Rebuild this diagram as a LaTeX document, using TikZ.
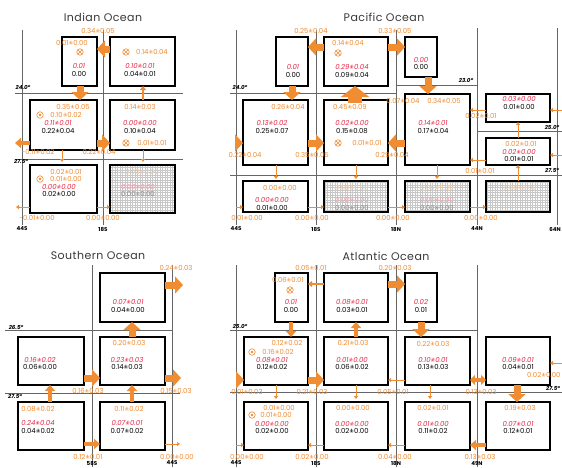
\documentclass[tikz,border=0pt]{standalone}
\usepackage{fontspec}
\setmainfont{Poppins}
\usetikzlibrary{arrows.meta}
\definecolor{myor}{RGB}{240,140,50}
\definecolor{myred}{RGB}{228,40,70}
\newcommand\tf{\fontsize{6.9}{7.5}\selectfont}
\newcommand\bx[6][boxst]{\node[#1, minimum width={(#5-#3)*1pt}, minimum height={(#6-#4)*1pt}] (#2) at ({(#3+#5)/2},{(#4+#6)/2}) {};}
\newcommand\hgrid[1]{\draw[black!22, line width=0.3pt, step=2.5pt] ([shift={(1,1)}]#1.north west) grid ([shift={(-1,-1)}]#1.south east);}
\tikzset{
 boxst/.style={draw=black, fill=white, line width=1.5pt, rectangle, inner sep=0pt, outer sep=0pt},
 grd/.style={draw=black!60, line width=0.7pt},
 ot/.style={text=myor, font=\tf, inner sep=0pt},
 ft/.style={text=myor!45, font=\tf, inner sep=0pt},
 rt/.style={text=myred, font=\tf\itshape, inner sep=0pt},
 frt/.style={text=myred!45, font=\tf\itshape, inner sep=0pt},
 bt/.style={text=black, font=\tf, inner sep=0pt},
 fbt/.style={text=black!45, font=\tf, inner sep=0pt},
 xcirc/.style={circle, draw=myor, line width=0.6pt, minimum size=6.5pt, inner sep=0pt,
   path picture={\draw[myor, line width=0.6pt] (path picture bounding box.north west) -- (path picture bounding box.south east) (path picture bounding box.north east) -- (path picture bounding box.south west);}},
 dcirc/.style={circle, draw=myor, line width=0.6pt, minimum size=6.5pt, inner sep=0pt,
   path picture={\fill[myor] (path picture bounding box.center) circle (1.3pt);}},
 title/.style={text=black!78, font=\fontsize{11}{12}\selectfont\addfontfeatures{LetterSpace=4}, inner sep=0pt},
 dg/.style={text=black, font=\fontsize{5.5}{6}\selectfont\bfseries\itshape, inner sep=0pt},
 ax/.style={text=black, font=\fontsize{5.5}{6}\selectfont\bfseries, inner sep=0pt},
 bigarr/.style={draw=myor, line width=7pt, -{Triangle[width=17pt,length=8pt]}},
 hugearr/.style={draw=myor, line width=14pt, -{Triangle[width=28pt,length=11pt]}},
 medarr/.style={draw=myor, line width=4pt, -{Triangle[width=10pt,length=6pt]}},
 dmedarr/.style={draw=myor, line width=4pt, {Triangle[width=10pt,length=5pt]}-{Triangle[width=10pt,length=5pt]}},
 smarr/.style={draw=myor, line width=2pt, -{Triangle[width=6pt,length=4pt]}},
 thinarr/.style={draw=myor, line width=0.9pt, -{Triangle[width=4pt,length=3pt]}},
}
\begin{document}
\begin{tikzpicture}[x=1pt,y=-1pt]
\useasboundingbox[fill=white] (0,0) rectangle (562,467);

% ---------- titles
\node[title] (tI) at (103,17) {Indian Ocean};
\node[title] (tP) at (384,17) {Pacific Ocean};
\node[title] (tS) at (98,255) {Southern Ocean};
\node[title] (tA) at (386,256) {Atlantic Ocean};

% ================= INDIAN =================
\draw[grd] (22,30) -- (22,225);
\draw[grd] (103,30) -- (103,225);
\draw[grd] (15,93) -- (183,93);
\draw[grd] (15,159) -- (183,159);
\bx{iA}{62}{37}{97}{86}
\bx{iB}{110}{37}{175}{86}
\bx{iC}{30}{100}{97}{150}
\bx{iD}{110}{100}{175}{150}
\bx{iE}{30}{165}{97}{213}
\bx{iF}{110}{165}{175}{213}
\hgrid{iF}
\draw[bigarr] (iB.west |- 0,49) -- (iA.east |- 0,49);
\draw[bigarr] (iA.south -| 80,0) -- (iC.north -| 80,0);
\draw[smarr] (iD.north -| 143,0) -- (iB.south -| 143,0);
\draw[bigarr] (iC.east |- 0,143) -- (iD.west |- 0,143);
\coordinate (iL1) at (15,143);
\draw[medarr] (iC.west |- 0,143) -- (iL1);
\coordinate (iL2) at (62,162);
\draw[thinarr] (iC.south -| 62,0) -- (iL2);
\coordinate (iL3) at (143,162);
\draw[thinarr] (iD.south -| 143,0) -- (iL3);
\coordinate (iL4) at (16,207);
\draw[thinarr] (iE.west |- 0,207) -- (iL4);
\draw[thinarr] (iE.east |- 0,207) -- (iF.west |- 0,207);
\node[ot] (iT1) at (98,31) {0.34±0.05};
\node[ot] (iA1) at (72,43) {0.01±0.00};
\node[xcirc] (iA2) at (80,52) {};
\node[rt] (iA3) at (79,66) {0.01};
\node[bt] (iA4) at (79,74) {0.00};
\node[xcirc] (iB1) at (126,52) {};
\node[ot] (iB2) at (152,52) {0.14±0.04};
\node[rt] (iB3) at (140,66) {0.10±0.01};
\node[bt] (iB4) at (140,74) {0.04±0.01};
\node[ot] (iC1) at (73,107) {0.35±0.05};
\node[dcirc] (iC2) at (40,115) {};
\node[ot] (iC3) at (66,115) {0.10±0.02};
\node[rt] (iC4) at (58,123) {0.11±0.01};
\node[bt] (iC5) at (58,131) {0.22±0.04};
\node[ot] (iD1) at (140,107) {0.14±0.03};
\node[rt] (iD2) at (140,123) {0.00±0.00};
\node[bt] (iD3) at (140,131) {0.10±0.04};
\node[xcirc] (iD4) at (126,143) {};
\node[ot] (iD5) at (152,143) {0.01±0.01};
\node[ot] (iE1) at (66,172) {0.02±0.01};
\node[dcirc] (iE2) at (40,179) {};
\node[ot] (iE3) at (66,179) {0.01±0.00};
\node[rt] (iE4) at (59,187) {0.00±0.00};
\node[bt] (iE5) at (59,194) {0.02±0.00};
\node[ft] (iF1) at (142,172) {0.00±0.00};
\node[frt] (iF2) at (138,187) {0.00±0.00};
\node[fbt] (iF3) at (138,194) {0.00±0.00};
\node[ot] (iT2) at (38,152) {-0.11±0.02};
\node[ot] (iT3) at (99,152) {0.22±0.04};
\node[ot] (iT4) at (37,218) {-0.01±0.00};
\node[ot] (iT5) at (103,218) {0.00±0.00};
\node[dg] (iG1) at (23,88) {24.0°};
\node[dg] (iG2) at (21,162) {27.5°};
\node[ax] (iX1) at (22,229) {44S};
\node[ax] (iX2) at (103,229) {18S};

% ================= PACIFIC =================
\draw[grd] (236,30) -- (236,225);
\draw[grd] (316,30) -- (316,225);
\draw[grd] (396,30) -- (396,225);
\draw[grd] (477,28) -- (477,225);
\draw[grd] (557,28) -- (557,225);
\draw[grd] (230,93) -- (396,93);
\draw[grd] (396,85) -- (477,85);
\draw[grd] (477,131) -- (562,131);
\draw[grd] (230,175) -- (562,175);
\bx{pA}{276}{37}{308}{86}
\bx{pB}{324}{37}{388}{86}
\bx{pC}{405}{37}{437}{77}
\bx{pD}{243}{100}{308}{165}
\bx{pE}{324}{100}{388}{165}
\bx{pF}{405}{94}{470}{165}
\bx{pG}{486}{94}{550}{122}
\bx{pG2}{486}{138}{550}{165}
\bx{pH}{243}{181}{308}{212}
\bx{pI}{324}{181}{388}{212}
\bx{pJ}{405}{181}{470}{212}
\bx{pK}{486}{181}{550}{212}
\hgrid{pI}
\hgrid{pJ}
\hgrid{pK}
\draw[bigarr] (pB.west |- 0,47) -- (pA.east |- 0,47);
\draw[bigarr] (pB.east |- 0,47) -- (pC.west |- 0,47);
\draw[bigarr] (pA.south -| 292,0) -- (pD.north -| 292,0);
\draw[hugearr] ([yshift=-3pt]pE.north -| 355,0) -- (pB.south -| 355,0);
\draw[bigarr] (pC.south -| 428,0) -- (pF.north -| 428,0);
\coordinate (pL1) at (236,143);
\draw[bigarr] (pL1) -- (pD.west |- 0,143);
\draw[bigarr] (pD.east |- 0,143) -- (pE.west |- 0,143);
\draw[bigarr] (pF.west |- 0,143) -- (pE.east |- 0,143);
\draw[thinarr] (pG.west |- 0,110) -- (pF.east |- 0,110);
\draw[thinarr] (pG2.west |- 0,160) -- (pF.east |- 0,160);
\draw[thinarr] (pG2.north -| 518,0) -- (pG.south -| 518,0);
\draw[thinarr] (pK.north -| 518,0) -- (pG2.south -| 518,0);
\coordinate (pL2) at (276,179);
\draw[thinarr] (pD.south -| 276,0) -- (pL2);
\coordinate (pL3) at (356,179);
\draw[thinarr] (pE.south -| 356,0) -- (pL3);
\coordinate (pL4) at (437,179);
\draw[thinarr] (pF.south -| 437,0) -- (pL4);
\coordinate (pL5) at (236,207);
\draw[thinarr] (pL5) -- (pH.west |- 0,207);
\draw[thinarr] (pH.east |- 0,207) -- (pI.west |- 0,207);
\draw[thinarr] (pI.east |- 0,207) -- (pJ.west |- 0,207);
\draw[thinarr] (pJ.east |- 0,207) -- (pK.west |- 0,207);
\coordinate (pR1) at (562,110);
\draw[thinarr] (pR1) -- (pG.east |- 0,110);
\coordinate (pR2) at (562,155);
\draw[thinarr] (pR2) -- (pG2.east |- 0,155);
\node[ot] (pT1) at (311,31) {0.25±0.04};
\node[ot] (pT2) at (395,31) {0.33±0.05};
\node[rt] (pA1) at (293,67) {0.01};
\node[bt] (pA2) at (293,75) {0.00};
\node[ot] (pB1) at (348,43) {0.14±0.04};
\node[xcirc] (pB2) at (338,53) {};
\node[rt] (pB3) at (352,67) {0.29±0.04};
\node[bt] (pB4) at (352,75) {0.09±0.04};
\node[rt] (pC1) at (421,60) {0.00};
\node[bt] (pC2) at (421,67) {0.00};
\node[ot] (pD1) at (288,107) {0.26±0.04};
\node[rt] (pD2) at (272,123) {0.13±0.02};
\node[bt] (pD3) at (272,131) {0.25±0.07};
\node[ot] (pE1) at (350,107) {0.45±0.09};
\node[rt] (pE2) at (352,123) {0.02±0.00};
\node[bt] (pE3) at (352,131) {0.15±0.08};
\node[xcirc] (pE4) at (338,143) {};
\node[ot] (pE5) at (367,143) {0.01±0.01};
\node[ot] (pF1) at (444,101) {0.34±0.05};
\node[rt] (pF2) at (433,123) {0.14±0.01};
\node[bt] (pF3) at (433,131) {0.17±0.04};
\node[ot] (pT3) at (403,101) {0.07±0.04};
\node[rt] (pG1) at (519,99) {0.03±0.00};
\node[bt] (pG3) at (519,107) {0.01±0.00};
\node[ot] (pT4) at (481,116) {0.02±0.01};
\node[ot] (pH1) at (521,144) {0.02±0.01};
\node[rt] (pH2) at (519,152) {0.02±0.00};
\node[bt] (pH3) at (519,159) {0.01±0.01};
\node[ot] (pT5) at (480,171) {0.01±0.01};
\node[ot] (pT6) at (245,155) {0.22±0.04};
\node[ot] (pT7) at (312,155) {0.35±0.05};
\node[ot] (pT8) at (392,155) {0.29±0.04};
\node[ot] (pJ1) at (280,188) {0.00±0.00};
\node[rt] (pJ2) at (272,200) {0.00±0.00};
\node[bt] (pJ3) at (272,208) {0.01±0.00};
\node[ft] (pI1) at (352,188) {0.00±0.00};
\node[frt] (pI2) at (352,200) {0.00±0.00};
\node[fbt] (pI3) at (352,208) {0.00±0.00};
\node[ft] (pK1) at (437,188) {0.00±0.00};
\node[frt] (pK2) at (437,200) {0.00±0.00};
\node[fbt] (pK3) at (437,208) {0.00±0.00};
\node[ft] (pM1) at (520,188) {0.00±0.00};
\node[ot] (pT9) at (247,218) {0.01±0.00};
\node[ot] (pT10) at (312,218) {0.00±0.00};
\node[ot] (pT11) at (393,218) {0.00±0.00};
\node[ot] (pT12) at (481,218) {0.00±0.00};
\node[dg] (pG4) at (240,88) {24.0°};
\node[dg] (pG5) at (466,80) {23.0°};
\node[dg] (pG6) at (552,128) {25.0°};
\node[dg] (pG7) at (552,171) {27.5°};
\node[ax] (pX1) at (236,229) {44S};
\node[ax] (pX2) at (316,229) {18S};
\node[ax] (pX3) at (396,229) {18N};
\node[ax] (pX4) at (477,229) {44N};
\node[ax] (pX5) at (555,229) {64N};

% ================= SOUTHERN =================
\draw[grd] (92,265) -- (92,467);
\draw[grd] (172,265) -- (172,467);
\draw[grd] (5,330) -- (172,330);
\draw[grd] (5,393) -- (180,393);
\bx{sA}{100}{273}{165}{322}
\bx{sB}{18}{337}{84}{385}
\bx{sC}{100}{337}{165}{385}
\bx{sD}{18}{402}{84}{450}
\bx{sE}{100}{402}{165}{450}
\coordinate (sR1) at (183,285);
\draw[bigarr] (sA.east |- 0,285) -- (sR1);
\draw[bigarr] (sC.north -| 132,0) -- (sA.south -| 132,0);
\draw[bigarr] (sB.east |- 0,378) -- (sC.west |- 0,378);
\coordinate (sR2) at (181,378);
\draw[bigarr] (sC.east |- 0,378) -- (sR2);
\draw[medarr] (sD.north -| 50,0) -- (sB.south -| 50,0);
\draw[medarr] (sE.north -| 132,0) -- (sC.south -| 132,0);
\draw[medarr] (sD.east |- 0,444) -- (sE.west |- 0,444);
\coordinate (sR3) at (180,444);
\draw[thinarr] (sE.east |- 0,444) -- (sR3);
\node[ot] (sT1) at (176,268) {0.24±0.03};
\node[rt] (sA1) at (128,302) {0.07±0.01};
\node[bt] (sA2) at (128,310) {0.04±0.00};
\node[rt] (sB1) at (40,360) {0.16±0.02};
\node[bt] (sB2) at (40,367) {0.06±0.00};
\node[ot] (sC1) at (129,343) {0.20±0.03};
\node[rt] (sC2) at (127,360) {0.23±0.03};
\node[bt] (sC3) at (127,367) {0.14±0.03};
\node[ot] (sD1) at (38,409) {0.08±0.02};
\node[rt] (sD2) at (38,423) {0.24±0.04};
\node[bt] (sD3) at (38,431) {0.04±0.02};
\node[ot] (sE1) at (129,409) {0.11±0.02};
\node[rt] (sE2) at (127,423) {0.07±0.01};
\node[bt] (sE3) at (127,431) {0.07±0.02};
\node[ot] (sT2) at (88,391) {0.16±0.03};
\node[ot] (sT3) at (176,391) {0.15±0.03};
\node[ot] (sT4) at (88,457) {0.12±0.01};
\node[ot] (sT5) at (177,457) {0.00±0.00};
\node[dg] (sG1) at (16,327) {26.5°};
\node[dg] (sG2) at (15,397) {27.5°};
\node[ax] (sX1) at (92,463) {58S};
\node[ax] (sX2) at (172,463) {44S};

% ================= ATLANTIC =================
\draw[grd] (236,265) -- (236,467);
\draw[grd] (316,265) -- (316,467);
\draw[grd] (396,265) -- (396,467);
\draw[grd] (477,265) -- (477,467);
\draw[grd] (230,330) -- (477,330);
\draw[grd] (230,392) -- (562,392);
\bx{aA}{275}{273}{308}{322}
\bx{aB}{324}{273}{388}{322}
\bx{aC}{405}{273}{437}{322}
\bx{aD}{244}{337}{308}{385}
\bx{aE}{324}{337}{388}{385}
\bx{aF}{405}{337}{470}{385}
\bx{aG}{486}{337}{550}{385}
\bx{aH}{244}{402}{308}{450}
\bx{aI}{324}{402}{388}{450}
\bx{aJ}{405}{402}{470}{450}
\bx{aK}{486}{402}{550}{450}
\draw[smarr] (aB.west |- 0,284) -- (aA.east |- 0,284);
\draw[bigarr] (aB.east |- 0,284) -- (aC.west |- 0,284);
\draw[medarr] (aA.south -| 291,0) -- (aD.north -| 291,0);
\draw[medarr] (aE.north -| 356,0) -- (aB.south -| 356,0);
\draw[bigarr] (aC.south -| 421,0) -- (aF.north -| 421,0);
\coordinate (aL1) at (236,380);
\draw[bigarr] (aL1) -- (aD.west |- 0,380);
\draw[bigarr] (aD.east |- 0,380) -- (aE.west |- 0,380);
\draw[thinarr] (aF.west |- 0,380) -- (aE.east |- 0,380);
\draw[dmedarr] (aF.east |- 0,380) -- (aG.west |- 0,380);
\coordinate (aR1) at (562,363);
\draw[thinarr] (aR1) -- (aG.east |- 0,363);
\coordinate (aL3) at (276,399);
\draw[thinarr] (aD.south -| 276,0) -- (aL3);
\coordinate (aL4) at (356,399);
\draw[thinarr] (aE.south -| 356,0) -- (aL4);
\coordinate (aL5) at (430,399);
\draw[thinarr] (aF.south -| 430,0) -- (aL5);
\draw[bigarr] (aG.south -| 517,0) -- (aK.north -| 517,0);
\coordinate (aL2) at (236,445);
\draw[thinarr] (aL2) -- (aH.west |- 0,445);
\draw[thinarr] (aI.west |- 0,445) -- (aH.east |- 0,445);
\draw[thinarr] (aJ.west |- 0,445) -- (aI.east |- 0,445);
\draw[medarr] (aK.west |- 0,445) -- (aJ.east |- 0,445);
\node[ot] (aT1) at (311,268) {0.05±0.01};
\node[ot] (aT2) at (395,268) {0.20±0.03};
\node[ot] (aA1) at (288,280) {0.06±0.01};
\node[xcirc] (aA2) at (290,290) {};
\node[rt] (aA3) at (291,302) {0.01};
\node[bt] (aA4) at (291,310) {0.00};
\node[rt] (aB1) at (352,302) {0.08±0.01};
\node[bt] (aB2) at (352,310) {0.03±0.01};
\node[rt] (aC1) at (421,302) {0.02};
\node[bt] (aC2) at (421,310) {0.01};
\node[ot] (aD1) at (287,343) {0.12±0.02};
\node[dcirc] (aD2) at (252,352) {};
\node[ot] (aD3) at (278,352) {0.16±0.02};
\node[rt] (aD4) at (272,360) {0.08±0.01};
\node[bt] (aD5) at (272,367) {0.12±0.02};
\node[ot] (aE1) at (353,343) {0.21±0.03};
\node[rt] (aE2) at (352,360) {0.01±0.00};
\node[bt] (aE3) at (352,367) {0.06±0.02};
\node[ot] (aF1) at (433,344) {0.22±0.03};
\node[rt] (aF2) at (433,360) {0.10±0.01};
\node[bt] (aF3) at (433,367) {0.13±0.03};
\node[rt] (aG1) at (518,360) {0.09±0.01};
\node[bt] (aG2) at (518,367) {0.04±0.01};
\node[ot] (aH1) at (279,408) {0.01±0.00};
\node[dcirc] (aH2) at (252,415) {};
\node[ot] (aH3) at (276,415) {0.01±0.00};
\node[rt] (aH4) at (272,424) {0.00±0.00};
\node[bt] (aH5) at (272,431) {0.02±0.00};
\node[ot] (aI1) at (353,408) {0.00±0.00};
\node[rt] (aI2) at (352,424) {0.00±0.00};
\node[bt] (aI3) at (352,431) {0.02±0.00};
\node[ot] (aJ1) at (433,408) {0.02±0.01};
\node[rt] (aJ2) at (433,424) {0.01±0.00};
\node[bt] (aJ3) at (433,431) {0.11±0.02};
\node[ot] (aK1) at (520,408) {0.19±0.03};
\node[rt] (aK2) at (518,424) {0.07±0.01};
\node[bt] (aK3) at (518,431) {0.12±0.01};
\node[ot] (aT3) at (247,392) {0.01±0.03};
\node[ot] (aT4) at (312,392) {0.21±0.03};
\node[ot] (aT5) at (393,392) {0.05±0.01};
\node[ot] (aT6) at (481,392) {0.13±0.03};
\node[ot, anchor=west] (aT7) at (527,375) {0.02±0.00};
\node[ot] (aT8) at (247,457) {0.00±0.00};
\node[ot] (aT9) at (312,457) {0.02±0.00};
\node[ot] (aT10) at (395,457) {0.04±0.00};
\node[ot] (aT11) at (480,457) {0.13±0.03};
\node[dg] (aG3) at (240,327) {25.0°};
\node[dg] (aG4) at (553,389) {27.5°};
\node[ax] (aX1) at (236,463) {44S};
\node[ax] (aX2) at (316,463) {18S};
\node[ax] (aX3) at (396,463) {18N};
\node[ax] (aX4) at (477,463) {49N};
\end{tikzpicture}
\end{document}
